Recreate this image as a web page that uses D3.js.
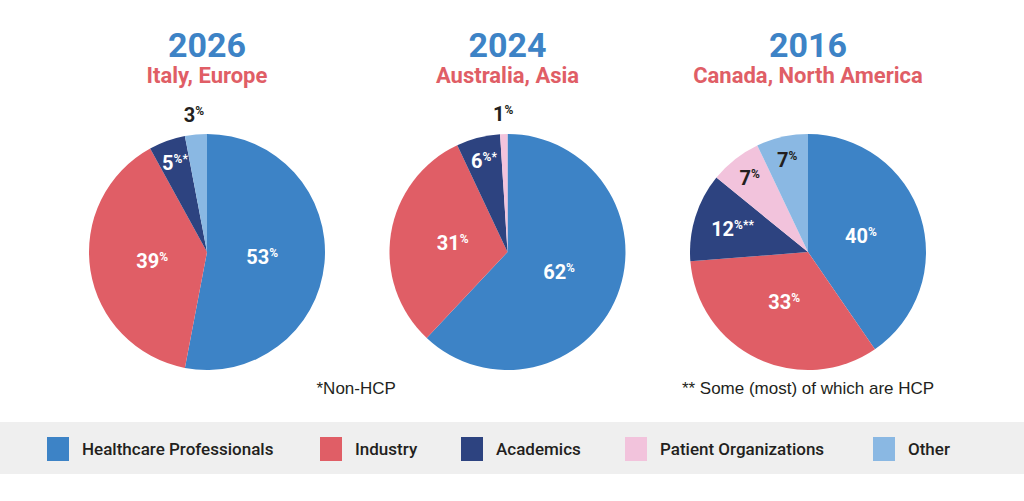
<!DOCTYPE html>
<html>
<head>
<meta charset="utf-8">
<script src="https://cdn.jsdelivr.net/npm/d3@7"></script>
<style>
  body { margin: 0; background: #fff; }
  svg { display: block; font-family: Roboto, "Liberation Sans", sans-serif; }
</style>
</head>
<body>
<svg id="chart" width="1024" height="501"></svg>
<script>
// categories in clockwise order from 12 o'clock
const categories = ["Healthcare Professionals", "Industry", "Academics", "Patient Organizations", "Other"];
const colors = ["#3d83c6", "#e05e66", "#2d4380", "#f2c3dc", "#8ab8e3"];

const years = ["2026", "2024", "2016"];
const places = ["Italy, Europe", "Australia, Asia", "Canada, North America"];

const values2026 = [53, 39, 5, 0, 3];
const values2024 = [62, 31, 6, 1, 0];
const values2016 = [40, 33, 12, 7, 7];

const notes2026 = ["", "", "*", "", ""];
const notes2024 = ["", "", "*", "", ""];
const notes2016 = ["", "", "**", "", ""];

const footnotes = ["", "*Non-HCP", "** Some (most) of which are HCP"];

const allValues = [values2026, values2024, values2016];
const allNotes = [notes2026, notes2024, notes2016];

const svg = d3.select("#chart");
const width = +svg.attr("width");

const color = d3.scaleOrdinal().domain(categories).range(colors);
const darkLabel = new Set(["Patient Organizations", "Other"]);

const radius = 118;
const centerX = d3.scalePoint().domain(years).range([207, 808]);
const centerY = 252;

const pie = d3.pie().sort(null).value(d => d.value);
const arc = d3.arc().innerRadius(0).outerRadius(radius);

// how far out a label sits depends on how big the slice is
function labelFactor(v) {
  if (v >= 25) return 0.47;
  if (v >= 10) return 0.67;
  if (v >= 4) return 0.8;
  return 1.17;
}

years.forEach((year, i) => {
  const cx = centerX(year);
  const g = svg.append("g").attr("transform", `translate(${cx},${centerY})`);

  svg.append("text")
    .attr("x", cx).attr("y", 57)
    .attr("text-anchor", "middle")
    .attr("fill", "#3d83c6")
    .attr("font-size", 34)
    .attr("font-weight", 700)
    .text(year);

  svg.append("text")
    .attr("x", cx).attr("y", 83)
    .attr("text-anchor", "middle")
    .attr("fill", "#e05e66")
    .attr("font-size", 22)
    .attr("font-weight", 700)
    .text(places[i]);

  const data = categories.map((c, j) => ({ cat: c, value: allValues[i][j], note: allNotes[i][j] }))
    .filter(d => d.value > 0);
  const arcs = pie(data);

  g.selectAll("path")
    .data(arcs)
    .enter().append("path")
    .attr("d", arc)
    .attr("fill", d => color(d.data.cat));

  const labels = g.selectAll("text.lbl")
    .data(arcs)
    .enter().append("text")
    .classed("lbl", true)
    .attr("transform", d => {
      const k = labelFactor(d.data.value);
      const a = (d.startAngle + d.endAngle) / 2;
      return `translate(${Math.sin(a) * radius * k},${-Math.cos(a) * radius * k + 7})`;
    })
    .attr("text-anchor", "middle")
    .attr("font-weight", 700)
    .attr("font-size", 20)
    .attr("fill", d => (darkLabel.has(d.data.cat) || labelFactor(d.data.value) > 1) ? "#231f20" : "#fff");

  labels.append("tspan").text(d => d.data.value);
  labels.append("tspan")
    .attr("font-size", 12)
    .attr("dy", -7)
    .text(d => "%" + d.data.note);

  if (footnotes[i]) {
    svg.append("text")
      .attr("x", cx + (i === 1 ? -191 : 0))
      .attr("y", 394)
      .attr("text-anchor", i === 1 ? "start" : "middle")
      .attr("font-family", "'Liberation Sans', Arial, sans-serif")
      .attr("font-size", 17)
      .attr("fill", "#231f20")
      .text(footnotes[i]);
  }
});

// legend band
svg.append("rect")
  .attr("x", 0).attr("y", 422)
  .attr("width", width).attr("height", 52)
  .attr("fill", "#efefef");

const legendX = d3.scaleOrdinal().domain(categories).range([47, 320, 461, 625, 873]);

const legend = svg.selectAll(".legend-item")
  .data(categories)
  .enter().append("g")
  .classed("legend-item", true)
  .attr("transform", d => `translate(${legendX(d)},437)`);

legend.append("rect")
  .attr("width", 22).attr("height", 24)
  .attr("fill", d => color(d));

legend.append("text")
  .attr("x", 35).attr("y", 18)
  .attr("font-size", 17)
  .attr("font-weight", 500)
  .attr("fill", "#231f20")
  .text(d => d);
</script>
</body>
</html>
